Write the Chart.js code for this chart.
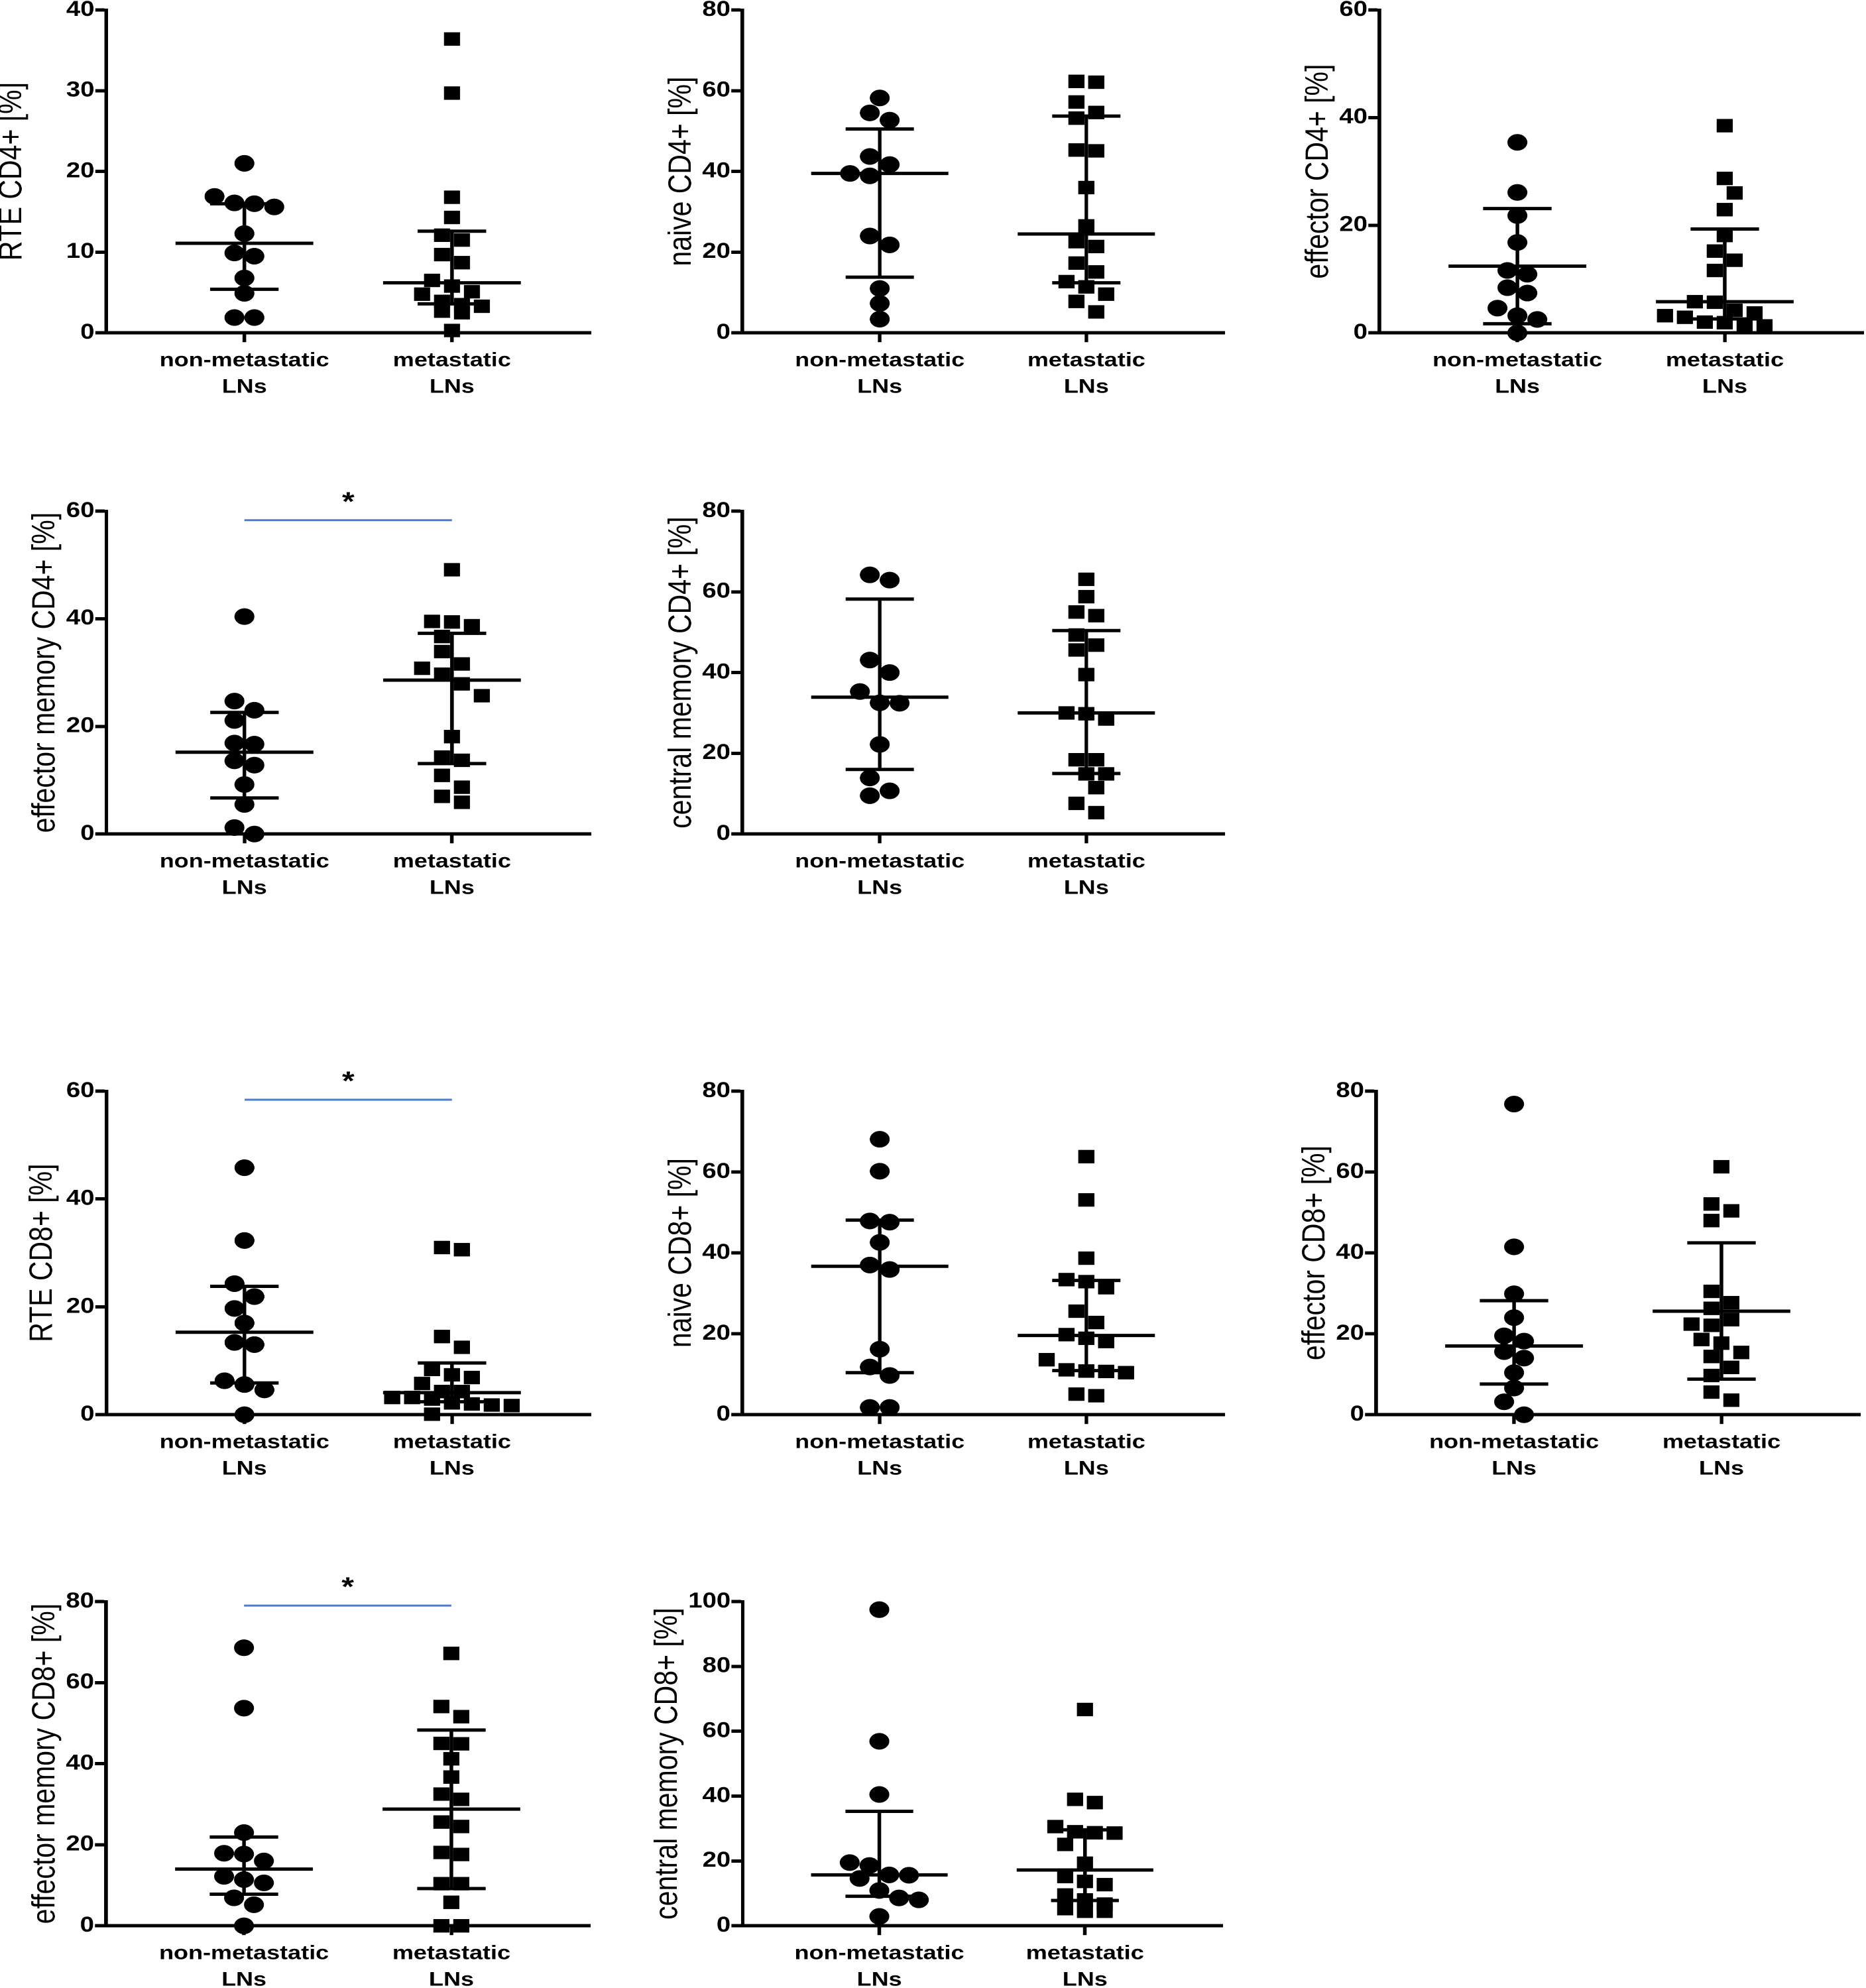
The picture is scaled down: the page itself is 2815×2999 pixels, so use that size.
<!DOCTYPE html>
<html>
<head>
<meta charset="utf-8">
<title>T cell subsets in non-metastatic vs metastatic LNs</title>
<script src="https://cdn.jsdelivr.net/npm/chart.js@4.4.1/dist/chart.umd.min.js"></script>
<style>
  html, body { margin: 0; padding: 0; background: #fff; }
  body { position: relative; width: 2815px; height: 2999px; overflow: hidden; }
  canvas { position: absolute; }
</style>
</head>
<body>
<script>
// categories
var groupLabels = [['non-metastatic', 'LNs'], ['metastatic', 'LNs']];

// axis titles, ranges and tick steps, one entry per panel
var panelTitles = ['RTE CD4+ [%]', 'naive CD4+ [%]', 'effector CD4+ [%]', 'effector memory CD4+ [%]', 'central memory CD4+ [%]',
  'RTE CD8+ [%]', 'naive CD8+ [%]', 'effector CD8+ [%]', 'effector memory CD8+ [%]', 'central memory CD8+ [%]'];
var yMaxes = [40, 80, 60, 60, 80, 60, 80, 80, 80, 100];
var ySteps = [10, 20, 20, 20, 20, 20, 20, 20, 20, 20];
// level of the significance bar (null = none)
var sigLevels = [null, null, null, 58.3, null, 58.4, null, null, 79.0, null];

// values: [non-metastatic, metastatic]
var rteCd4Non = [21.0, 16.9, 16.1, 16.0, 15.6, 12.3, 9.9, 9.5, 6.8, 4.9, 1.9, 1.9];
var rteCd4Met = [36.4, 29.7, 16.8, 14.3, 12.1, 11.5, 9.7, 8.7, 6.5, 5.8, 5.1, 4.8, 3.9, 3.5, 3.3, 2.7, 2.5, 0.3];
var rteCd4Median = [11.1, 6.2], rteCd4Q1 = [5.4, 3.6], rteCd4Q3 = [16.0, 12.6];

var naiveCd4Non = [58.2, 54.5, 52.7, 43.7, 41.7, 39.5, 38.9, 24.0, 21.8, 11.0, 7.3, 3.4];
var naiveCd4Met = [62.3, 62.1, 57.2, 54.6, 53.2, 45.3, 45.1, 36.0, 26.5, 22.6, 21.4, 17.3, 15.1, 12.7, 11.4, 9.6, 7.8, 5.2];
var naiveCd4Median = [39.5, 24.5], naiveCd4Q1 = [13.8, 12.4], naiveCd4Q3 = [50.5, 53.7];

var effCd4Non = [35.4, 26.1, 21.8, 16.8, 11.6, 10.9, 8.4, 7.4, 4.6, 3.2, 2.5, 0.0];
var effCd4Met = [38.5, 28.7, 26.0, 22.9, 18.1, 15.2, 13.5, 11.6, 5.8, 5.7, 4.2, 3.7, 3.2, 2.9, 2.0, 1.9, 1.3, 1.3];
var effCd4Median = [12.4, 5.8], effCd4Q1 = [1.7, 2.6], effCd4Q3 = [23.1, 19.3];

var emCd4Non = [40.4, 24.7, 23.0, 21.1, 16.9, 16.7, 13.6, 12.8, 9.2, 5.5, 1.2, 0.0];
var emCd4Met = [49.1, 39.5, 39.4, 38.7, 36.7, 33.9, 31.6, 30.8, 29.7, 27.9, 25.7, 18.1, 14.3, 13.7, 10.9, 8.7, 7.0, 5.9];
var emCd4Median = [15.2, 28.6], emCd4Q1 = [6.7, 13.1], emCd4Q3 = [22.6, 37.3];

var cmCd4Non = [64.2, 62.9, 43.1, 40.0, 35.3, 32.5, 32.4, 22.2, 13.9, 10.7, 9.5];
var cmCd4Met = [63.1, 58.8, 55.0, 54.1, 49.3, 46.8, 45.6, 39.5, 30.0, 29.8, 28.5, 18.4, 18.4, 14.9, 14.9, 11.5, 7.6, 5.3];
var cmCd4Median = [33.9, 30.0], cmCd4Q1 = [16.0, 15.0], cmCd4Q3 = [58.2, 50.4];

var rteCd8Non = [45.8, 32.3, 24.3, 21.9, 19.7, 17.0, 13.4, 13.0, 6.3, 5.6, 4.6, 0.0];
var rteCd8Met = [31.0, 30.6, 14.5, 12.5, 8.4, 7.4, 6.9, 5.8, 4.3, 4.3, 3.2, 3.2, 2.9, 2.2, 2.0, 1.8, 1.7, 0.1];
var rteCd8Median = [15.3, 4.1], rteCd8Q1 = [5.9, 2.4], rteCd8Q3 = [23.8, 9.6];

var naiveCd8Non = [68.1, 60.2, 47.9, 47.6, 42.6, 37.0, 35.9, 16.2, 11.8, 9.7, 1.8, 1.8];
var naiveCd8Met = [63.8, 53.1, 38.7, 33.4, 32.9, 31.4, 25.6, 22.8, 19.8, 18.9, 18.1, 13.6, 11.1, 10.8, 10.7, 10.4, 5.1, 4.7];
var naiveCd8Median = [36.7, 19.6], naiveCd8Q1 = [10.4, 10.9], naiveCd8Q3 = [48.1, 33.2];

var effCd8Non = [76.8, 41.5, 29.9, 24.0, 19.5, 18.2, 15.6, 14.0, 10.4, 6.6, 3.2, 0.0];
var effCd8Met = [61.3, 52.1, 50.4, 48.0, 30.5, 27.7, 26.3, 23.5, 22.4, 22.1, 18.6, 17.7, 15.4, 14.4, 11.7, 9.7, 5.6, 3.6];
var effCd8Median = [17.0, 25.6], effCd8Q1 = [7.6, 8.8], effCd8Q3 = [28.2, 42.5];

var emCd8Non = [68.6, 53.7, 23.0, 17.9, 17.7, 16.0, 12.2, 11.4, 10.6, 6.9, 5.2, 0.0];
var emCd8Met = [67.2, 54.1, 51.6, 45.0, 44.9, 41.2, 36.7, 32.5, 31.2, 25.6, 24.5, 18.1, 17.6, 10.4, 10.4, 5.8, 0.0, 0.0];
var emCd8Median = [14.0, 28.8], emCd8Q1 = [7.8, 9.2], emCd8Q3 = [21.9, 48.3];

var cmCd8Non = [97.5, 56.9, 40.5, 19.5, 18.6, 15.7, 15.6, 14.6, 10.9, 8.6, 8.0, 2.9];
var cmCd8Met = [66.7, 39.0, 38.0, 30.6, 29.0, 28.7, 28.6, 25.1, 19.3, 15.2, 13.7, 12.7, 9.5, 8.0, 6.7, 5.3, 4.5, 4.5];
var cmCd8Median = [15.7, 17.2], cmCd8Q1 = [9.1, 7.8], cmCd8Q3 = [35.3, 29.6];

var groupNon = [rteCd4Non, naiveCd4Non, effCd4Non, emCd4Non, cmCd4Non, rteCd8Non, naiveCd8Non, effCd8Non, emCd8Non, cmCd8Non];
var groupMet = [rteCd4Met, naiveCd4Met, effCd4Met, emCd4Met, cmCd4Met, rteCd8Met, naiveCd8Met, effCd8Met, emCd8Met, cmCd8Met];
var groupMedian = [rteCd4Median, naiveCd4Median, effCd4Median, emCd4Median, cmCd4Median, rteCd8Median, naiveCd8Median, effCd8Median, emCd8Median, cmCd8Median];
var groupQ1 = [rteCd4Q1, naiveCd4Q1, effCd4Q1, emCd4Q1, cmCd4Q1, rteCd8Q1, naiveCd8Q1, effCd8Q1, emCd8Q1, cmCd8Q1];
var groupQ3 = [rteCd4Q3, naiveCd4Q3, effCd4Q3, emCd4Q3, cmCd4Q3, rteCd8Q3, naiveCd8Q3, effCd8Q3, emCd8Q3, cmCd8Q3];

// page layout (page pixels): where each plot area sits
var slots = [
  { x: 161, y: 15, h: 487, titleDist: 142 },
  { x: 1120, y: 15, h: 487, titleDist: 89 },
  { x: 2081, y: 15, h: 487, titleDist: 91 },
  { x: 161, y: 771, h: 487, titleDist: 92 },
  { x: 1120, y: 771, h: 487, titleDist: 89 },
  { x: 161, y: 1646, h: 488, titleDist: 96 },
  { x: 1120, y: 1646, h: 488, titleDist: 89 },
  { x: 2076, y: 1646, h: 488, titleDist: 91 },
  { x: 160, y: 2416, h: 489, titleDist: 91 },
  { x: 1120, y: 2416, h: 489, titleDist: 107 }
];

// the original figure is stretched sideways; charts are drawn narrow and widened by SX
var SX = 1.2;
var AXIS_LEN = 731;          // page px length of x axis
var X_MIN = 0.335, X_MAX = 2.67;
var UNIT_PX = 313;           // page px per category step
var MEDIAN_HALF = 0.332, CAP_HALF = 0.165;
var STEP = 0.096;            // horizontal spacing of neighbouring symbols (x units)
var ROW_PX = 20;             // symbols closer than this vertically share a row
var SYM_W = 30, SYM_H = 25;  // symbol footprint on the page
var TITLE_SIZE = 41, TITLE_LH = 1.2;

Chart.defaults.font.family = "'Liberation Sans', Arial, sans-serif";
Chart.defaults.color = '#000';

// GraphPad-like scatter: values that would overlap are spread sideways
function spread(values, yMax, plotH, center) {
  var pxY = plotH / yMax;
  var order = values.map(function (v, i) { return i; })
    .sort(function (a, b) { return values[b] - values[a]; });
  var placed = [];
  var row = [];
  function collides(x, y) {
    return placed.some(function (p) {
      var dx = (p.x - x) * UNIT_PX / SYM_W, dy = (p.y - y) * pxY / SYM_H;
      return dx * dx + dy * dy < 0.8;
    });
  }
  function flush() {
    var n = row.length;
    var shifts = [0, 0.5, -0.5, 1, -1, 1.5, -1.5];
    var best = 0;
    for (var s = 0; s < shifts.length; s++) {
      var ok = row.every(function (idx, k) {
        return !collides(center + (k - (n - 1) / 2 + shifts[s]) * STEP, values[idx]);
      });
      if (ok) { best = shifts[s]; break; }
    }
    var rowPts = row.map(function (idx, k) {
      return { x: center + (k - (n - 1) / 2 + best) * STEP, y: values[idx] };
    });
    placed = placed.concat(rowPts);
    row = [];
  }
  order.forEach(function (idx) {
    if (row.length && (values[row[0]] - values[idx]) * pxY > ROW_PX) flush();
    row.push(idx);
  });
  flush();
  return placed;
}

function segment(points, color, width) {
  return {
    data: points, showLine: true, borderColor: color, borderWidth: width,
    pointRadius: 0, pointHoverRadius: 0, fill: false, clip: false
  };
}

function makeConfig(i, titlePad) {
  var slot = slots[i];
  var datasets = [];
  [0, 1].forEach(function (g) {
    var c = g + 1;
    var m = groupMedian[i][g], lo = groupQ1[i][g], hi = groupQ3[i][g];
    datasets.push(segment([{ x: c - MEDIAN_HALF, y: m }, { x: c + MEDIAN_HALF, y: m }], '#000', 5));
    datasets.push(segment([{ x: c - CAP_HALF, y: lo }, { x: c + CAP_HALF, y: lo }], '#000', 5));
    datasets.push(segment([{ x: c - CAP_HALF, y: hi }, { x: c + CAP_HALF, y: hi }], '#000', 5));
    datasets.push(segment([{ x: c, y: lo }, { x: c, y: hi }], '#000', 4.5));
  });
  datasets.push({
    data: spread(groupNon[i], yMaxes[i], slot.h, 1), pointStyle: 'circle', pointRadius: 12.3,
    backgroundColor: '#000', borderColor: '#000', pointBorderWidth: 0.5, clip: false
  });
  datasets.push({
    data: spread(groupMet[i], yMaxes[i], slot.h, 2), pointStyle: 'rect', pointRadius: 14,
    backgroundColor: '#000', borderColor: '#000', pointBorderWidth: 0.5, clip: false
  });
  if (sigLevels[i] !== null) {
    datasets.push(segment([{ x: 1, y: sigLevels[i] }, { x: 2, y: sigLevels[i] }], '#4a7dd0', 3));
  }

  var starPlugin = {
    id: 'sigStar',
    afterDatasetsDraw: function (chart) {
      if (sigLevels[i] === null) return;
      var ctx = chart.ctx;
      ctx.save();
      ctx.fillStyle = '#000';
      ctx.font = 'bold 40px ' + Chart.defaults.font.family;
      ctx.textAlign = 'center';
      ctx.textBaseline = 'middle';
      ctx.fillText('*', chart.scales.x.getPixelForValue(1.5), chart.scales.y.getPixelForValue(sigLevels[i]) - 26);
      ctx.restore();
    }
  };

  return {
    type: 'scatter',
    data: { datasets: datasets },
    plugins: [starPlugin],
    options: {
      responsive: false,
      maintainAspectRatio: false,
      devicePixelRatio: 2,
      animation: false,
      events: [],
      layout: { padding: { top: 70, right: 0, bottom: 0, left: 0 } },
      plugins: { legend: { display: false }, tooltip: { enabled: false } },
      scales: {
        x: {
          type: 'linear', min: X_MIN, max: X_MAX,
          afterBuildTicks: function (axis) { axis.ticks = [{ value: 1 }, { value: 2 }]; },
          ticks: {
            autoSkip: false, maxRotation: 0, padding: 8, color: '#000',
            font: { size: 30, weight: 'bold', lineHeight: 1.33 },
            callback: function (v) { return groupLabels[v - 1]; }
          },
          grid: { drawOnChartArea: false, drawTicks: true, tickLength: 14, tickWidth: 4.5, tickColor: '#000' },
          border: { display: true, width: 5, color: '#000' }
        },
        y: {
          min: 0, max: yMaxes[i],
          ticks: { stepSize: ySteps[i], padding: 1, color: '#000', font: { size: 32, weight: 'bold' } },
          grid: { drawOnChartArea: false, drawTicks: true, tickLength: 14, tickWidth: 5, tickColor: '#000' },
          border: { display: true, width: 4.5, color: '#000' },
          title: {
            display: true, text: panelTitles[i], color: '#000',
            font: { size: TITLE_SIZE, weight: 'normal', lineHeight: TITLE_LH },
            padding: { top: 0, bottom: titlePad }
          }
        }
      }
    }
  };
}

function buildPanel(i) {
  var slot = slots[i];
  var canvas = document.createElement('canvas');
  document.body.appendChild(canvas);
  var axisLen = AXIS_LEN / SX, titleDist = slot.titleDist / SX;
  var w = 760, h = 700, titlePad = 30;
  var chart = null;
  for (var k = 0; k < 5; k++) {
    if (chart) chart.destroy();
    canvas.width = w; canvas.height = h;
    chart = new Chart(canvas, makeConfig(i, titlePad));
    var a = chart.chartArea;
    var titleCx = chart.scales.y.left + TITLE_SIZE * TITLE_LH / 2;
    var dTitle = titleDist - (a.left - titleCx);
    var dW = axisLen - (a.right - a.left);
    var dH = slot.h - (a.bottom - a.top);
    if (Math.abs(dTitle) < 0.5 && Math.abs(dW) < 0.5 && Math.abs(dH) < 0.5) break;
    titlePad = Math.max(0, titlePad + dTitle);
    w = Math.round(w + dW + dTitle);
    h = Math.round(h + dH);
  }
  canvas.style.width = (chart.width * SX) + 'px';
  canvas.style.height = chart.height + 'px';
  canvas.style.left = Math.round(slot.x - chart.chartArea.left * SX) + 'px';
  canvas.style.top = Math.round(slot.y - chart.chartArea.top) + 'px';
  return chart;
}

var charts = slots.map(function (s, i) { return buildPanel(i); });
</script>
</body>
</html>
